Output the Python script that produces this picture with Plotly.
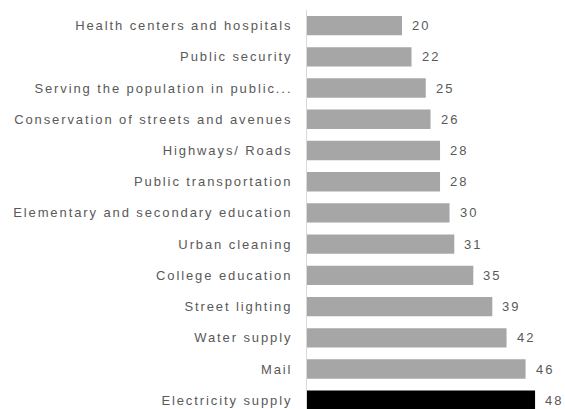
import plotly.graph_objects as go

# Public services, ranked by score
services = [
    "Health centers and hospitals",
    "Public security",
    "Serving the population in public...",
    "Conservation of streets and avenues",
    "Highways/ Roads",
    "Public transportation",
    "Elementary and secondary education",
    "Urban cleaning",
    "College education",
    "Street lighting",
    "Water supply",
    "Mail",
    "Electricity supply",
]
scores = [20, 22, 25, 26, 28, 28, 30, 31, 35, 39, 42, 46, 48]
highlight = "Electricity supply"

bar_colors = ["#000000" if s == highlight else "#A6A6A6" for s in services]
text_color = "#595959"
font_family = "Liberation Sans, Arial"
spacing = "letter-spacing:1.9px"


def spaced(t):
    return f'<span style="{spacing}">{t}</span>'


fig = go.Figure(
    go.Bar(
        x=scores,
        y=services,
        orientation="h",
        marker=dict(color=bar_colors, line=dict(width=0)),
        width=0.62,
        hoverinfo="skip",
    )
)

# value labels just past the end of each bar
for s, v in zip(services, scores):
    fig.add_annotation(
        x=v, y=s, text=spaced(str(v)), showarrow=False,
        xanchor="left", xshift=8, yshift=0,
        font=dict(family=font_family, size=13, color=text_color),
    )

fig.update_layout(
    width=565,
    height=409,
    margin=dict(l=307, r=0, t=10, b=0),
    paper_bgcolor="white",
    plot_bgcolor="white",
    showlegend=False,
    font=dict(family=font_family, size=13, color=text_color),
    xaxis=dict(
        range=[0, 54.3],
        visible=False,
        fixedrange=True,
    ),
    yaxis=dict(
        categoryorder="array",
        categoryarray=services,
        range=[12.28, -0.5],
        showline=True,
        linecolor="#D9D9D9",
        linewidth=1,
        showgrid=False,
        zeroline=False,
        ticks="",
        tickmode="array",
        tickvals=services,
        ticktext=[spaced(s) for s in services],
        ticklabelstandoff=11,
        tickfont=dict(family=font_family, size=13, color=text_color),
        fixedrange=True,
    ),
)

fig.write_html("out.html")
